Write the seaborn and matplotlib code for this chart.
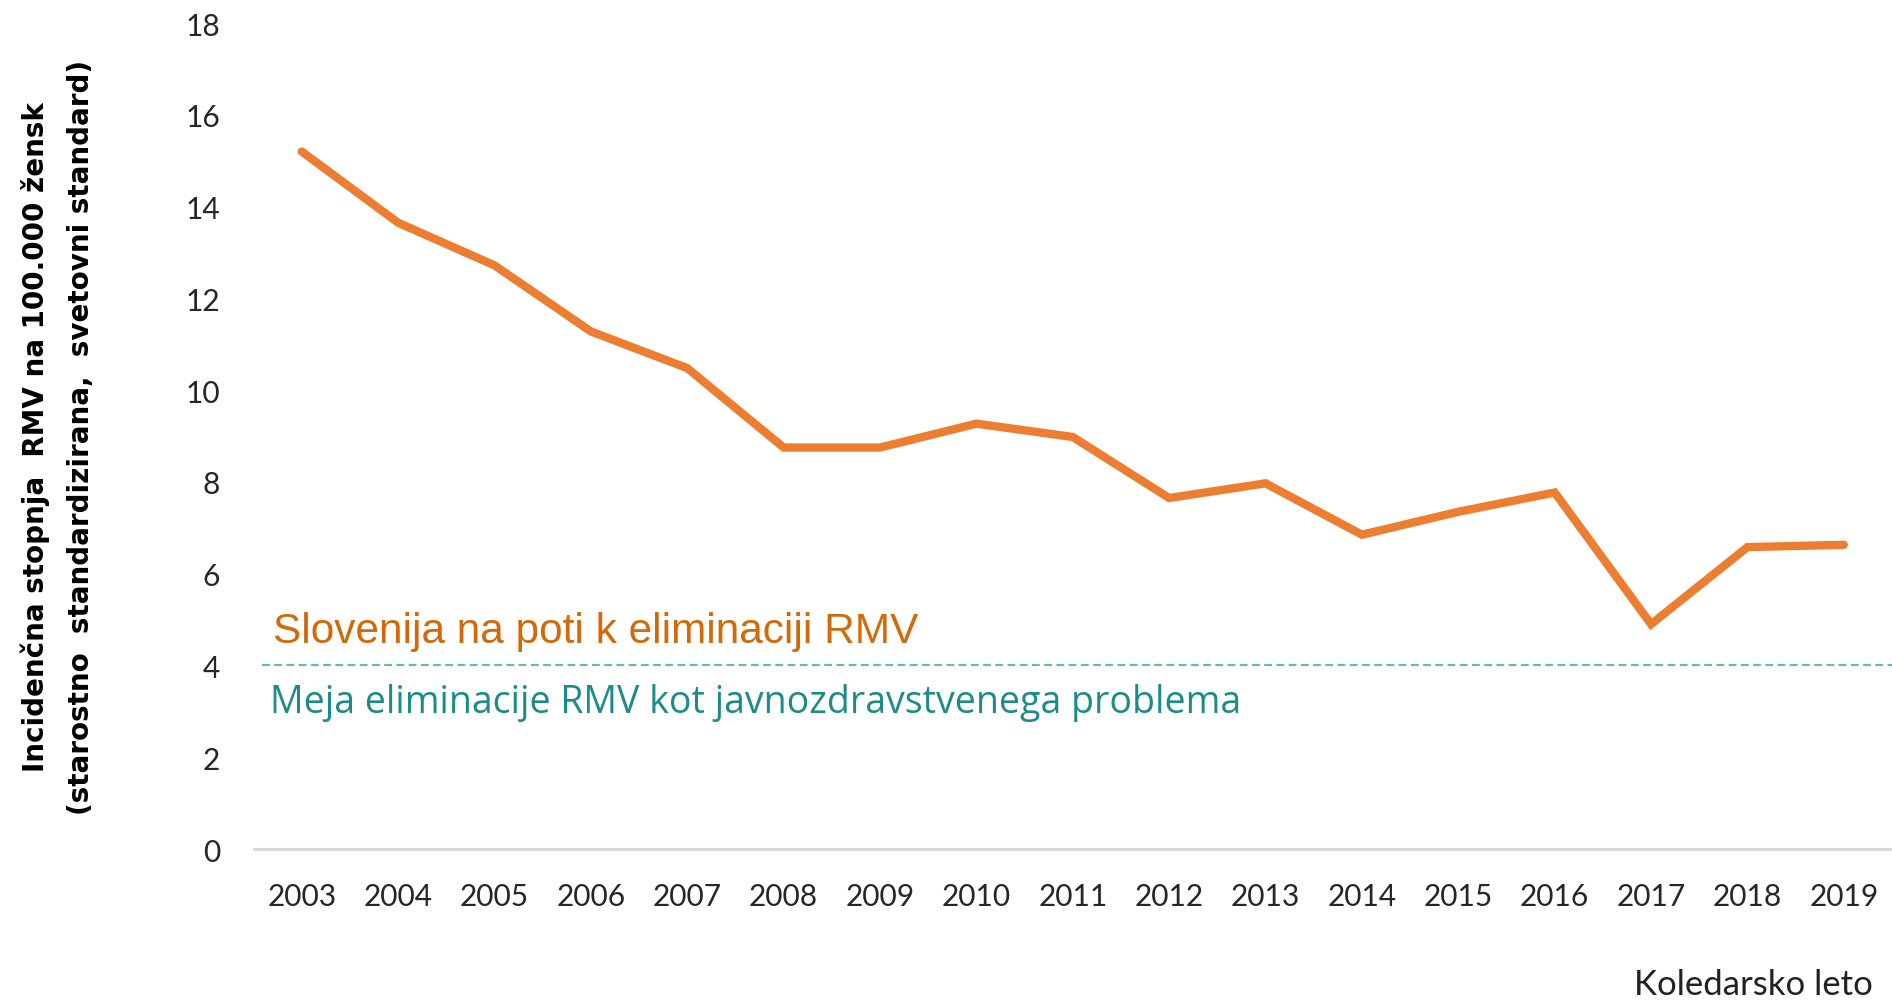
import numpy as np
import pandas as pd
import matplotlib
matplotlib.use("Agg")
import matplotlib.pyplot as plt
import seaborn as sns

# values
years = [2003, 2004, 2005, 2006, 2007, 2008, 2009, 2010, 2011,
         2012, 2013, 2014, 2015, 2016, 2017, 2018, 2019]
incidence = [15.2, 13.65, 12.72, 11.28, 10.48, 8.75, 8.75, 9.27, 8.98,
             7.65, 7.97, 6.85, 7.35, 7.77, 4.9, 6.58, 6.63]
elimination_limit = 4
y_ticks = [0, 2, 4, 6, 8, 10, 12, 14, 16, 18]

df = pd.DataFrame({"leto": years, "incidenca": incidence})

sns.set_theme(style="white")
plt.rcParams["font.family"] = ["DejaVu Sans"]

fig = plt.figure(figsize=(18.92, 10.03), dpi=100)
ax = fig.add_axes([0.134, 0.1525, 0.866, 0.8235])

sns.lineplot(data=df, x="leto", y="incidenca", ax=ax, color="#ed7d31",
             linewidth=6, solid_capstyle="round", solid_joinstyle="miter")

ax.axhline(elimination_limit, xmin=0.005, xmax=1, color="#66bab6",
           linewidth=1.6, linestyle=(0, (3.5, 2)))

ax.text(2003 - 0.3, 4.76, "Slovenija na poti k eliminaciji RMV",
        color="#d2690a", fontsize=30.5, family="Liberation Sans",
        va="center", ha="left")
ax.text(2003 - 0.33, 3.2, "Meja eliminacije RMV kot javnozdravstvenega problema",
        color="#1c8c88", fontsize=27, family="Open Sans",
        va="center", ha="left")

ax.set_xlim(2002.5, 2019.5)
ax.set_ylim(0, 18)
ax.set_xticks(years)
ax.set_xticklabels([str(y) for y in years])
ax.set_yticks(y_ticks)

for lab in ax.get_xticklabels() + ax.get_yticklabels():
    lab.set_family("Lato")
    lab.set_fontsize(21.5)
    lab.set_color("#262626")
ax.tick_params(axis="x", length=0, pad=24)
ax.tick_params(axis="y", length=0, pad=24)

sns.despine(ax=ax, left=True, top=True, right=True)
ax.spines["bottom"].set_color("#d9d9d9")
ax.spines["bottom"].set_linewidth(2.2)

ax.set_ylabel("Incidenčna stopnja  RMV na 100.000 žensk\n(starostno  standardizirana,  svetovni standard)",
              fontsize=20, fontweight="bold", color="black", linespacing=1.75)
ax.yaxis.set_label_coords(-0.097, 0.5)
ax.set_xlabel("")

fig.text(0.99, 0.018, "Koledarsko leto", ha="right", va="center",
         fontsize=25, family="Lato", color="#222222")

fig.savefig("out.png", dpi=100)
